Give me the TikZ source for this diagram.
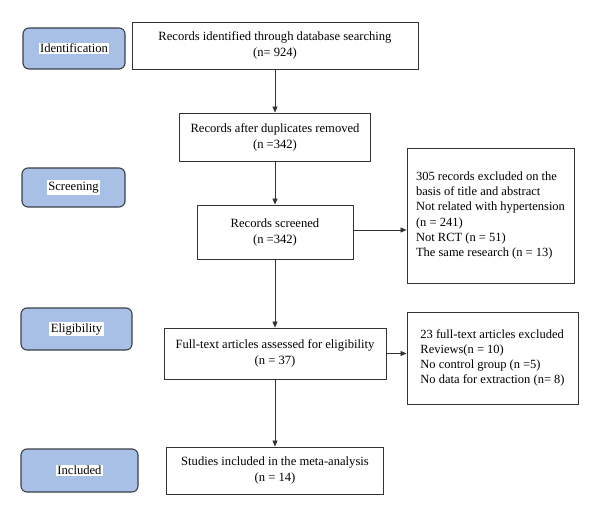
\documentclass[tikz,border=0pt]{standalone}
\usepackage{fontspec}
\setmainfont{Liberation Serif}
\usetikzlibrary{arrows.meta}
\definecolor{stageblue}{HTML}{A8BFE6}
\definecolor{stageedge}{HTML}{3B3F48}
\definecolor{boxedge}{HTML}{333333}
\tikzset{
  stage/.style={draw=stageedge, line width=1.1pt, fill=stageblue, rounded corners=6pt, inner sep=0pt},
  stagelabel/.style={fill=white, inner sep=1.5pt, font=\fontsize{12.6}{14}\selectfont},
  flowbox/.style={draw=boxedge, line width=0.9pt, inner sep=0pt, align=center, font=\fontsize{12.6}{16}\selectfont},
  sidebox/.style={draw=boxedge, line width=0.9pt, inner sep=0pt, align=left, font=\fontsize{12.5}{15.2}\selectfont},
  arr/.style={draw=boxedge, line width=0.8pt, -{Triangle[length=6pt,width=5pt]}}
}
\begin{document}
\begin{tikzpicture}[x=1pt,y=-1pt]
\useasboundingbox (0,0) rectangle (600,516);
% stage boxes
\node[stage, minimum width=102pt, minimum height=41pt] (s1) at (74,48.5) {};
\node[stagelabel] (s1t) at (s1.center) {Identification};
\node[stage, minimum width=103pt, minimum height=39pt] (s2) at (73.5,187.5) {};
\node[stagelabel] (s2t) at (s2.center) {Screening};
\node[stage, minimum width=111pt, minimum height=42pt] (s3) at (76.5,329) {};
\node[stagelabel] (s3t) at (s3.center) {Eligibility};
\node[stage, minimum width=117pt, minimum height=43pt] (s4) at (79.5,470.5) {};
\node[stagelabel] (s4t) at (s4.center) {Included};
% main flow
\node[flowbox, minimum width=286pt, minimum height=47pt] (b1) at (275,45.5) {Records identified through database searching\\(n= 924)};
\node[flowbox, minimum width=191pt, minimum height=48pt] (b2) at (275,137) {Records after duplicates removed\\(n =342)};
\node[flowbox, minimum width=156pt, minimum height=54pt] (b3) at (275,232) {Records screened\\(n =342)};
\node[flowbox, minimum width=222pt, minimum height=51pt] (b4) at (275,353.5) {Full-text articles assessed for eligibility\\(n = 37)};
\node[flowbox, minimum width=217pt, minimum height=47pt] (b5) at (275,470.5) {Studies included in the meta-analysis\\(n = 14)};
% side boxes
\node[sidebox, minimum width=167pt, minimum height=135pt] (r1) at (490.5,215.5) {305 records excluded on the\\basis of title and abstract\\Not related with hypertension\\(n = 241)\\Not RCT (n = 51)\\The same research (n = 13)};
\node[sidebox, minimum width=171pt, minimum height=92pt] (r2) at (492.5,358) {23 full-text articles excluded\\Reviews(n = 10)\\No control group (n =5)\\No data for extraction (n= 8)};
% arrows
\draw[arr] (b3.east |- 0,230) -- (r1.west |- 0,230);
\draw[arr] (b1) -- (b2);
\draw[arr] (b2) -- (b3);
\draw[arr] (b3) -- (b4);
\draw[arr] (b4) -- (b5);
\draw[arr] (b4.east) -- (r2.west |- b4.east);
\end{tikzpicture}
\end{document}
